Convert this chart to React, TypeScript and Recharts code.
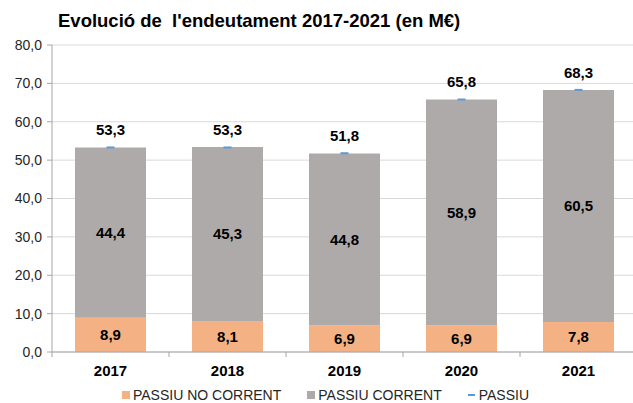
import React from 'react';
import {
  ComposedChart,
  Bar,
  Line,
  CartesianGrid,
  XAxis,
  YAxis,
  Legend,
  LabelList,
} from 'recharts';

const years = ['2017', '2018', '2019', '2020', '2021'];
const passiuNoCorrent = [8.9, 8.1, 6.9, 6.9, 7.8];
const passiuCorrent = [44.4, 45.3, 44.8, 58.9, 60.5];
const passiuTotal = [53.3, 53.3, 51.8, 65.8, 68.3];
const yTicks = [0, 10, 20, 30, 40, 50, 60, 70, 80];

const SALMON = '#F4B183';
const GRAY = '#AEAAAA';
const BLUE = '#5B9BD5';
const FONT = '"Liberation Sans", Arial, sans-serif';

const CHART_W = 640;
const CHART_H = 403;
const Y_AXIS_W = 52;
const RIGHT = 3;
const BAND = (CHART_W - Y_AXIS_W - RIGHT) / years.length;

const chartData = years.map((y, i) => ({
  year: y,
  noCorrent: passiuNoCorrent[i],
  corrent: passiuCorrent[i],
  total: passiuTotal[i],
}));

const fmt = (v: any) => Number(v).toFixed(1).replace('.', ',');

const XTick = (props: any) => {
  const { x, y, payload, index } = props;
  return (
    <g>
      <line x1={x - BAND / 2} x2={x - BAND / 2} y1={y} y2={y + 5} stroke="#A6A6A6" />
      {index === years.length - 1 && (
        <line x1={x + BAND / 2} x2={x + BAND / 2} y1={y} y2={y + 5} stroke="#A6A6A6" />
      )}
      <text x={x} y={y + 24} textAnchor="middle" fontSize={15} fontWeight="bold" fill="#000" fontFamily={FONT}>
        {payload.value}
      </text>
    </g>
  );
};

const TotalDot = (props: any) => {
  const { cx, cy } = props;
  if (cx == null || cy == null) return null;
  return <line x1={cx - 4} x2={cx + 4} y1={cy} y2={cy} stroke={BLUE} strokeWidth={2} />;
};

const LegendContent = () => (
  <div
    style={{
      height: 16,
      display: 'flex',
      justifyContent: 'center',
      alignItems: 'center',
      fontFamily: FONT,
      fontSize: 14,
      color: '#262626',
      paddingLeft: 14,
    }}
  >
    <span style={{ display: 'flex', alignItems: 'center', marginRight: 26 }}>
      <span style={{ width: 8, height: 8, background: SALMON, marginRight: 3 }} />
      PASSIU NO CORRENT
    </span>
    <span style={{ display: 'flex', alignItems: 'center', marginRight: 26 }}>
      <span style={{ width: 8, height: 8, background: GRAY, marginRight: 3 }} />
      PASSIU CORRENT
    </span>
    <span style={{ display: 'flex', alignItems: 'center' }}>
      <span style={{ width: 7, height: 2, background: BLUE, marginRight: 4 }} />
      PASSIU
    </span>
  </div>
);

export default function App() {
  return (
    <div
      style={{
        position: 'absolute',
        left: 0,
        top: 0,
        width: 633,
        height: 403,
        overflow: 'hidden',
        background: '#fff',
        fontFamily: FONT,
      }}
    >
      <div
        style={{
          position: 'absolute',
          left: 58,
          top: 10,
          fontSize: 18.5,
          fontWeight: 'bold',
          color: '#000',
          whiteSpace: 'pre',
        }}
      >
        {"Evolució de  l'endeutament 2017-2021 (en M€)"}
      </div>
      <ComposedChart
        width={CHART_W}
        height={CHART_H}
        data={chartData}
        margin={{ top: 45, right: RIGHT, bottom: 0, left: 0 }}
        barSize={71}
      >
        <CartesianGrid vertical={false} stroke="#D9D9D9" />
        <XAxis
          dataKey="year"
          height={35}
          tickSize={0}
          tickMargin={0}
          tickLine={false}
          axisLine={{ stroke: '#A6A6A6' }}
          tick={<XTick />}
          interval={0}
        />
        <YAxis
          width={Y_AXIS_W}
          domain={[0, 80]}
          ticks={yTicks}
          tickFormatter={fmt}
          tickSize={5}
          tickMargin={5}
          axisLine={{ stroke: '#A6A6A6' }}
          tickLine={{ stroke: '#A6A6A6' }}
          tick={{ fontSize: 14, fill: '#262626', fontFamily: FONT }}
        />
        <Bar dataKey="noCorrent" stackId="a" fill={SALMON} isAnimationActive={false}>
          <LabelList
            dataKey="noCorrent"
            position="center"
            formatter={fmt}
            style={{ fontSize: 15, fontWeight: 'bold', fill: '#000', fontFamily: FONT }}
          />
        </Bar>
        <Bar dataKey="corrent" stackId="a" fill={GRAY} isAnimationActive={false}>
          <LabelList
            dataKey="corrent"
            position="center"
            formatter={fmt}
            style={{ fontSize: 15, fontWeight: 'bold', fill: '#000', fontFamily: FONT }}
          />
        </Bar>
        <Line
          dataKey="total"
          stroke="none"
          dot={<TotalDot />}
          activeDot={false}
          isAnimationActive={false}
        >
          <LabelList
            dataKey="total"
            position="top"
            offset={12}
            formatter={fmt}
            style={{ fontSize: 15, fontWeight: 'bold', fill: '#000', fontFamily: FONT }}
          />
        </Line>
        <Legend
          verticalAlign="bottom"
          content={<LegendContent />}
          wrapperStyle={{ bottom: 0 }}
        />
      </ComposedChart>
    </div>
  );
}
